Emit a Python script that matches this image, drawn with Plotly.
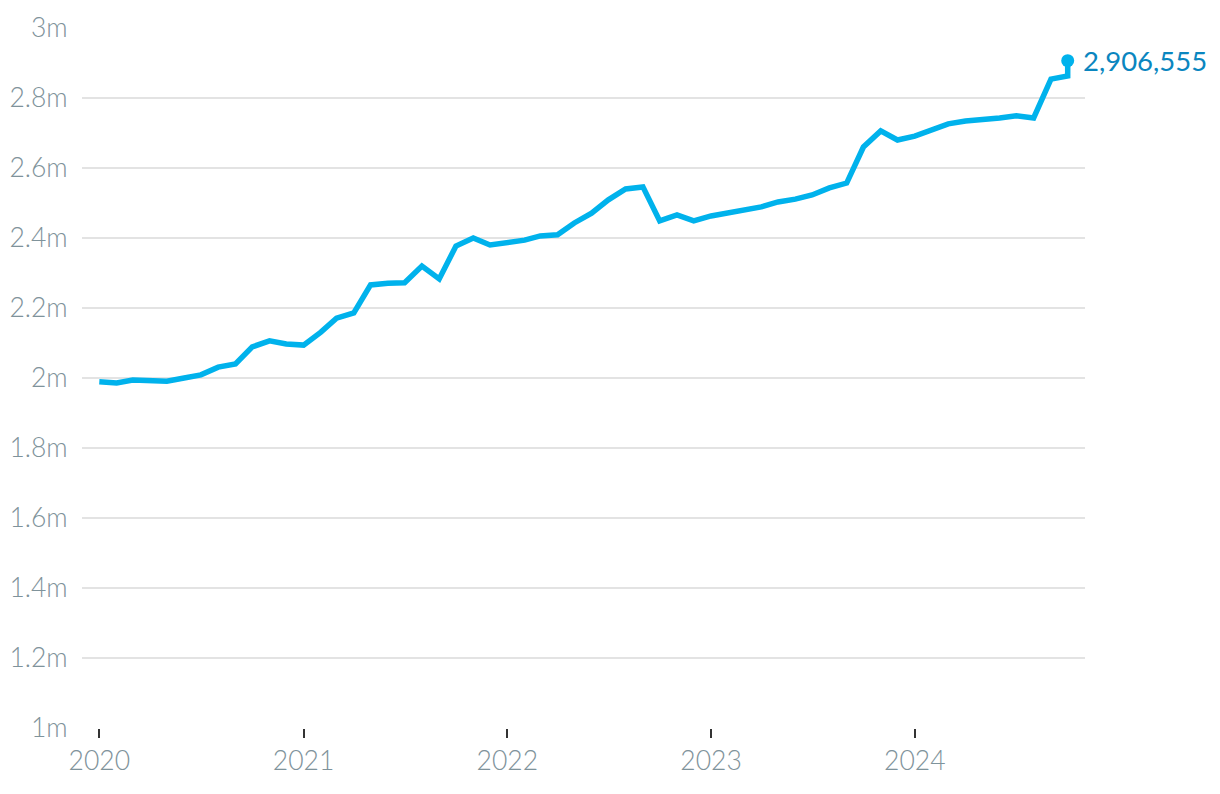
import plotly.graph_objects as go
import pandas as pd

dates = list(pd.date_range("2020-01-01", "2024-10-01", freq="MS").strftime("%Y-%m-%d")) + ["2024-10-01"]
values = [
    1989000, 1986000, 1994000, 1994000, 1991000, 2000000, 2009000, 2031000, 2040000, 2089000, 2106000, 2097000,
    2094000, 2131000, 2171000, 2186000, 2266000, 2271000, 2272000, 2320000, 2283000, 2377000, 2400000, 2380000,
    2386000, 2394000, 2406000, 2409000, 2443000, 2471000, 2509000, 2540000, 2546000, 2449000, 2466000, 2449000,
    2463000, 2471000, 2480000, 2489000, 2503000, 2511000, 2523000, 2543000, 2557000, 2660000, 2706000, 2680000,
    2691000, 2709000, 2726000, 2734000, 2737000, 2743000, 2749000, 2743000, 2854000, 2863000,
    2906555,
]
ytick_vals = [1e6, 1.2e6, 1.4e6, 1.6e6, 1.8e6, 2e6, 2.2e6, 2.4e6, 2.6e6, 2.8e6, 3e6]
ytick_text = ["1m", "1.2m", "1.4m", "1.6m", "1.8m", "2m", "2.2m", "2.4m", "2.6m", "2.8m", "3m"]
xtick_vals = ["2020-01-01", "2021-01-01", "2022-01-01", "2023-01-01", "2024-01-01"]
xtick_text = ["2020", "2021", "2022", "2023", "2024"]

line_color = "#00b2ec"
label_color = "#0a86bf"
tick_font = dict(family="Lato", size=26.5, color="#7f939b", weight=300)

fig = go.Figure()
fig.add_trace(go.Scatter(
    x=dates, y=values, mode="lines",
    line=dict(color=line_color, width=5.5), hoverinfo="skip",
))
fig.add_trace(go.Scatter(
    x=[dates[-1]], y=[values[-1]], mode="markers",
    marker=dict(color=line_color, size=13), hoverinfo="skip",
))
fig.add_annotation(
    x=dates[-1], y=values[-1], text=f"{values[-1]:,}", showarrow=False,
    xanchor="left", yanchor="middle", xshift=13,
    font=dict(family="Lato", size=27.5, color=label_color),
)

fig.update_layout(
    template="none",
    width=1220, height=794,
    margin=dict(l=82, r=135, t=28, b=66, autoexpand=False),
    paper_bgcolor="white", plot_bgcolor="white",
    showlegend=False,
    xaxis=dict(
        range=["2019-12-01", "2024-11-01"],
        tickvals=xtick_vals, ticktext=xtick_text,
        ticks="outside", ticklen=9, tickwidth=2, tickcolor="#333333",
        showgrid=False, zeroline=False, showline=False, automargin=False,
        tickfont=tick_font,
    ),
    yaxis=dict(
        range=[1e6, 3e6],
        tickvals=ytick_vals, ticktext=ytick_text,
        ticks="outside", ticklen=8, tickcolor="rgba(0,0,0,0)",
        showgrid=True, gridcolor="#e3e3e3", gridwidth=1.5,
        zeroline=False, showline=False, automargin=False,
        tickfont=tick_font,
    ),
)

fig.write_html("out.html")
